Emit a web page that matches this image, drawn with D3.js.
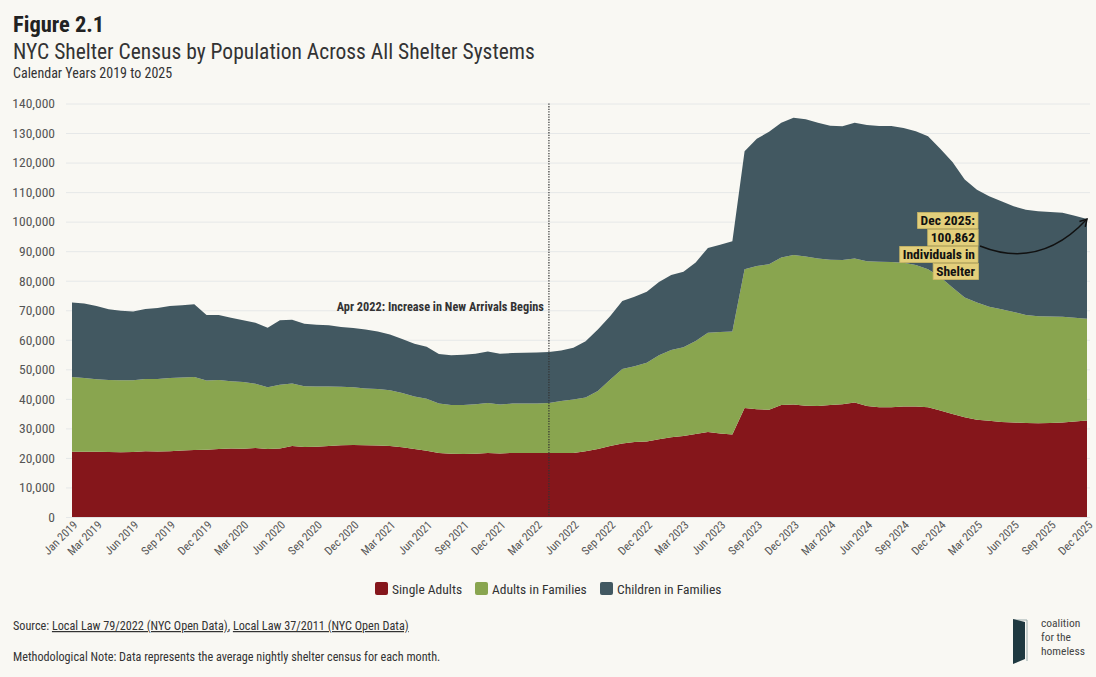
<!DOCTYPE html>
<html><head><meta charset="utf-8">
<script src="https://cdn.jsdelivr.net/npm/d3@7"></script>
<style>
body{margin:0;background:#f9f8f3;}
svg{display:block;}
text{font-family:"Roboto Condensed","Liberation Sans Narrow","Arial Narrow",Roboto,sans-serif;}
</style></head><body><svg id="c" width="1096" height="677"></svg>
<script>
// ---- data ----
const months = d3.timeMonth.range(new Date(2019,0,1), new Date(2026,0,1)).map(d3.timeFormat("%b %Y"));
const singleAdults = [22100,22100,22100,22000,21900,22000,22300,22200,22300,22500,22700,22800,
  23000,23200,23100,23400,23000,23200,24000,23700,23800,24000,24300,24400,
  24300,24200,24000,23600,23000,22400,21700,21400,21300,21400,21700,21500,
  21700,21700,21700,21700,21700,21700,22300,23000,24000,24900,25400,25600,
  26300,27000,27400,28100,28800,28300,27900,36900,36500,36300,37900,38100,
  37700,37600,37900,38200,38800,37600,37200,37200,37400,37400,37200,36100,
  34900,33800,32900,32600,32200,32000,31800,31700,31800,32000,32300,32700];
const adultsInFamilies = [25300,25000,24500,24400,24400,24300,24400,24500,24800,24700,24700,23400,
  23400,22800,22600,21700,20900,21600,21200,20600,20400,20200,19800,19500,
  19200,19100,18900,18400,17800,17600,16700,16500,16600,16800,16900,16600,
  16700,16700,16700,16900,17600,18100,18200,19700,22500,25200,25600,26600,
  28500,29500,30100,31500,33600,34300,34900,47000,48500,49300,50000,50600,
  50500,49900,49200,48800,48700,49000,49200,49100,48700,47900,46700,45200,
  42800,40500,39700,38600,38100,37400,36600,36300,36100,35800,35200,34400];
const childrenInFamilies = [25200,25200,24800,23900,23500,23300,23700,24100,24300,24500,24600,22200,
  22000,21500,20900,20700,20200,21800,21600,21100,20900,20700,20200,20100,
  20000,19500,18900,18300,17900,17600,16800,16900,17000,17100,17400,17200,
  17100,17200,17300,17300,17100,17500,19000,20800,21500,23000,23600,24100,
  24800,25400,25500,26600,28700,29600,30600,39900,43100,44800,45600,46500,
  46500,46000,45400,45300,46000,46100,46000,46100,45600,45300,45000,43400,
  42500,40000,38200,37400,36600,35800,35600,35500,35400,35200,34500,33762];
const seriesKeys = ["Single Adults","Adults in Families","Children in Families"];
const seriesColors = ["#85161b","#89a54f","#425861"];
const yTicks = [0,10000,20000,30000,40000,50000,60000,70000,80000,90000,100000,110000,120000,130000,140000];
const xTickLabels = ["Jan 2019","Mar 2019","Jun 2019","Sep 2019","Dec 2019","Mar 2020","Jun 2020","Sep 2020",
  "Dec 2020","Mar 2021","Jun 2021","Sep 2021","Dec 2021","Mar 2022","Jun 2022","Sep 2022","Dec 2022",
  "Mar 2023","Jun 2023","Sep 2023","Dec 2023","Mar 2024","Jun 2024","Sep 2024","Dec 2024","Mar 2025",
  "Jun 2025","Sep 2025","Dec 2025"];
const markerMonth = "Apr 2022";
const markerText = "Apr 2022: Increase in New Arrivals Begins";
const calloutMonth = "Dec 2025";
const calloutLines = ["Dec 2025:","100,862","Individuals in","Shelter"];

// ---- chart ----
const svg = d3.select("#c");
svg.append("rect").attr("width",1096).attr("height",677).attr("fill","#f9f8f3");

const rows = months.map((m,i)=>({month:m,"Single Adults":singleAdults[i],"Adults in Families":adultsInFamilies[i],"Children in Families":childrenInFamilies[i]}));
const x = d3.scalePoint().domain(months).range([72,1087]);
const y = d3.scaleLinear().domain([0,140000]).range([517,103.5]);

// titles
svg.append("text").attr("x",13).attr("y",32).attr("font-size",22.5).attr("font-weight","bold").attr("fill","#222").text("Figure 2.1");
svg.append("text").attr("x",13).attr("y",59).attr("font-size",21.5).attr("fill","#333").text("NYC Shelter Census by Population Across All Shelter Systems");
svg.append("text").attr("x",13).attr("y",78).attr("font-size",14).attr("fill","#333").text("Calendar Years 2019 to 2025");

// gridlines + y labels
const yAxis = svg.append("g").attr("transform","translate(66,0)")
  .call(d3.axisLeft(y).tickValues(yTicks).tickSize(-1024).tickFormat(d3.format(",")).tickPadding(11));
yAxis.select(".domain").remove();
yAxis.selectAll(".tick line").attr("stroke","#e6e8e8").attr("stroke-width",1);
yAxis.selectAll(".tick text").attr("font-size",13.5).attr("fill","#555").attr("font-family",null);

// areas
const stack = d3.stack().keys(seriesKeys)(rows);
const area = d3.area().x(d=>x(d.data.month)).y0(d=>y(d[0])).y1(d=>y(d[1]));
svg.append("g").selectAll("path").data(stack).join("path")
  .attr("d",area).attr("fill",(d,i)=>seriesColors[i]);

// x axis labels
const xAxis = svg.append("g").attr("transform","translate(0,517)")
  .call(d3.axisBottom(x).tickValues(xTickLabels).tickSize(0).tickPadding(6));
xAxis.select(".domain").attr("stroke","#e2e2e2");
xAxis.selectAll(".tick text").attr("font-size",11.5).attr("fill","#555").attr("font-family",null)
  .attr("text-anchor","end").attr("dy","0.3em").attr("transform","translate(-1,2) rotate(-45)");

// marker line
const mx = x(markerMonth);
svg.append("line").attr("x1",mx).attr("x2",mx).attr("y1",y(140000)).attr("y2",y(0))
  .attr("stroke","#333").attr("stroke-width",1.2).attr("stroke-dasharray","1.3,1.3");
svg.append("text").attr("x",mx-5).attr("y",311).attr("text-anchor","end").attr("font-size",12.3)
  .attr("font-weight","bold").attr("fill","#333").text(markerText);

// callout
const cx = x(calloutMonth);
const lastIdx = months.indexOf(calloutMonth);
const total = singleAdults[lastIdx]+adultsInFamilies[lastIdx]+childrenInFamilies[lastIdx];
const cg = svg.append("g");
calloutLines.forEach((t,i)=>{
  const ty = 225 + i*17;
  const tx = cg.append("text").attr("x",975).attr("y",ty).attr("text-anchor","end")
    .attr("font-size",13.5).attr("font-weight","bold").attr("fill","#111").text(t);
  const bb = tx.node().getBBox();
  cg.insert("rect","text").attr("x",bb.x-3).attr("y",ty-12.5).attr("width",bb.width+6).attr("height",16)
    .attr("fill","#e3cf7b").attr("stroke","#cdb965").attr("stroke-width",0.8);
});
svg.append("defs").append("marker").attr("id","arr").attr("viewBox","0 0 10 10").attr("refX",8).attr("refY",5)
  .attr("markerWidth",7).attr("markerHeight",7).attr("orient","auto")
  .append("path").attr("d","M1,1 L8,5 L1,9").attr("fill","none").attr("stroke","#111").attr("stroke-width",1.5);
const ey = y(total);
svg.append("path").attr("d",`M980,246 Q1040,270 ${cx},${ey}`).attr("fill","none").attr("stroke","#111")
  .attr("stroke-width",1.4).attr("marker-end","url(#arr)");

// legend
const lg = svg.append("g");
const legX = [375,475,600];
seriesKeys.forEach((k,i)=>{
  lg.append("rect").attr("x",legX[i]).attr("y",582).attr("width",13).attr("height",13).attr("rx",2).attr("fill",seriesColors[i]);
  lg.append("text").attr("x",legX[i]+17).attr("y",593.5).attr("font-size",13.5).attr("fill","#333").text(k);
});

// source
const src = svg.append("text").attr("x",13).attr("y",630).attr("font-size",12.2).attr("fill","#333");
src.append("tspan").text("Source: ");
src.append("tspan").attr("text-decoration","underline").text("Local Law 79/2022 (NYC Open Data)");
src.append("tspan").text(", ");
src.append("tspan").attr("text-decoration","underline").text("Local Law 37/2011 (NYC Open Data)");
svg.append("text").attr("x",13).attr("y",661).attr("font-size",12.2).attr("fill","#333")
  .text("Methodological Note: Data represents the average nightly shelter census for each month.");

// logo
const logo = svg.append("g");
logo.append("path").attr("d","M1014,620 L1027,620 L1027,661").attr("fill","none").attr("stroke","#9aa").attr("stroke-width",1);
logo.append("path").attr("d","M1013,619 L1025,622 L1025,659 L1013,664 Z").attr("fill","#1f3940");
["coalition","for the","homeless"].forEach((t,i)=>{
  logo.append("text").attr("x",1041).attr("y",627+i*14).attr("font-size",11.5).attr("fill","#444").text(t);
});
</script></body></html>
